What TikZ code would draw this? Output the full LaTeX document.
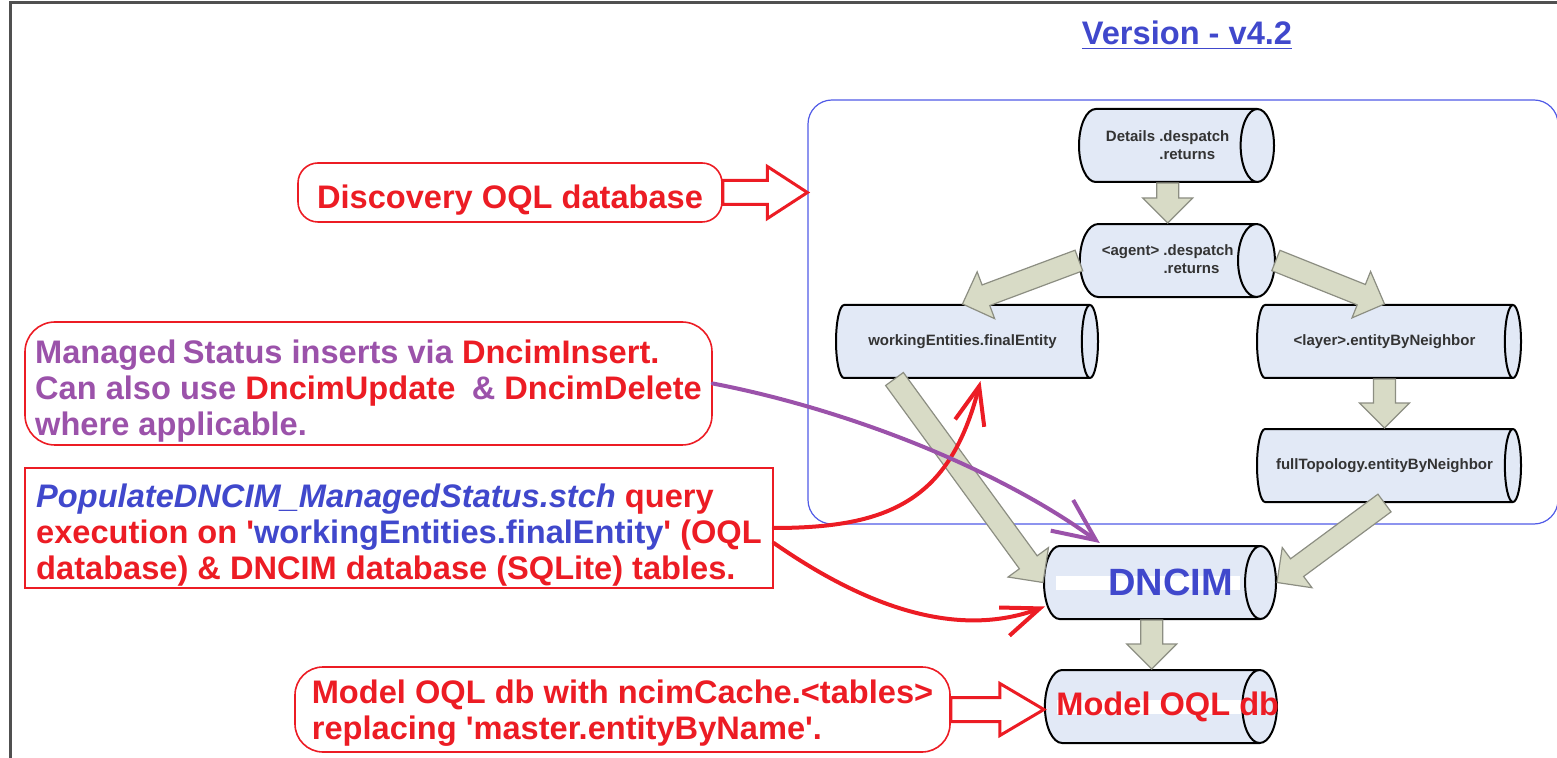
\documentclass[tikz,border=0pt]{standalone}
\usepackage{fontspec}
\setmainfont{Liberation Sans}
\usetikzlibrary{positioning,calc,shapes.geometric,arrows.meta}

\definecolor{dbfill}{RGB}{226,233,246}
\definecolor{arrfill}{RGB}{216,219,198}
\definecolor{arrline}{RGB}{140,142,130}
\definecolor{notered}{RGB}{236,28,36}
\definecolor{notepurple}{RGB}{155,82,170}
\definecolor{noteblue}{RGB}{64,72,204}
\definecolor{grpblue}{RGB}{80,90,230}
\definecolor{edgegray}{RGB}{80,80,80}

% block arrow: style, from, to, half shaft, half head, head length
\newcommand{\bigarrow}[6]{%
  \coordinate (bh) at ($(#3)!#6!(#2)$);
  \filldraw[#1] ($(#2)!#4!90:(#3)$) -- ($(bh)!#4!90:(#3)$) -- ($(bh)!#5!90:(#3)$) -- (#3)
     -- ($(bh)!#5!-90:(#3)$) -- ($(bh)!#4!-90:(#3)$) -- ($(#2)!#4!-90:(#3)$) -- cycle;}
\newcommand{\notetop}{\rule{0pt}{19pt}}

\tikzset{
  db/.style={cylinder, draw=black, line width=1pt, aspect=1.15,
    cylinder uses custom fill, cylinder body fill=dbfill, cylinder end fill=dbfill,
    inner sep=0pt, minimum height=97.5pt, minimum width=36.5pt,
    font=\fontsize{7.5}{9}\selectfont\bfseries, text=black!80, align=left},
  band/.style={path picture={\fill[white] ($(path picture bounding box.west)+(6pt,3.5pt)$)
    rectangle ($(path picture bounding box.east)+(-18pt,-3.5pt)$);}},
  note/.style={font=\fontsize{16.3}{18}\selectfont\bfseries, align=left, inner sep=0pt},
  redbox/.style={note, draw=notered, line width=0.8pt, rounded corners=10pt},
  fatarr/.style={fill=arrfill, draw=arrline, line width=0.6pt},
  hollowarr/.style={fill=white, draw=notered, line width=1.5pt},
  redline/.style={draw=notered, line width=2pt, line cap=round,
    -{Straight Barb[length=19pt,width=15pt]}},
  purpleline/.style={draw=notepurple, line width=2pt, line cap=round,
    -{Straight Barb[length=21pt,width=19pt]}}
}

\begin{document}
\begin{tikzpicture}[x=0.5pt,y=-0.5pt]
  \useasboundingbox (0,0) rectangle (1557,758);
  \draw[edgegray, line width=1.5pt] (10,800) |- (1600,3);

  \node[font=\fontsize{16.3}{18}\selectfont\bfseries, text=noteblue, anchor=base] (ver) at (1187,45) {\underline{Version - v4.2}};
  \node[draw=grpblue, line width=0.6pt, rounded corners=12pt, minimum width=375pt,
    minimum height=212pt, inner sep=0pt] (grp) at (1183,312) {};

  % tables
  \node[db, anchor=west] (det) at (1078,145.5) {Details .despatch\\\phantom{Details }.returns};
  \node[db, below=20pt of det] (agt) {<agent> .despatch\\\phantom{<agent> }.returns};
  \node[db, anchor=west, minimum height=131pt] (wrk) at (835,341.5) {workingEntities.finalEntity};
  \node[db, anchor=west, minimum height=132pt] (lay) at (1256,341.5) {<layer>.entityByNeighbor};
  \node[db, minimum height=132pt, below=24.5pt of lay] (full) {fullTopology.entityByNeighbor};
  \node[db, band, anchor=west, minimum height=116pt, font=\fontsize{19}{20}\selectfont\bfseries, text=noteblue] (dncim) at (1043,582.5)
    {\makebox[0pt]{\hspace{19pt}DNCIM}};
  \node[db, band, minimum height=116pt, below=24.5pt of dncim, font=\fontsize{16.3}{18}\selectfont\bfseries, text=notered] (model)
    {\makebox[0pt]{\hspace{16pt}Model OQL db}};

  % notes
  \node[redbox, minimum width=212pt, minimum height=29.5pt, text=notered] (disc) at (510,192.5) {\notetop Discovery OQL database};
  \node[redbox, rounded corners=15pt, minimum width=343.5pt, minimum height=61.5pt, text=notepurple] (mgd) at (368.5,383.5)
    {\notetop Managed\hspace{0.2em}Status inserts via \textcolor{notered}{DncimInsert.}\\
     Can also use \textcolor{notered}{DncimUpdate}\enspace\&~\textcolor{notered}{DncimDelete}\\
     where applicable.};
  \node[redbox, sharp corners, minimum width=374pt, minimum height=60pt, text=notered] (pop) at (399,528)
    {\notetop\textcolor{noteblue}{\itshape PopulateDNCIM\_ManagedStatus.stch} query\\
     execution on \textquotesingle\textcolor{noteblue}{workingEntities.finalEntity}\textquotesingle{} (OQL\\
     database) \& DNCIM database (SQLite) tables.};
  \node[redbox, rounded corners=14pt, minimum width=327.5pt, minimum height=42.5pt, text=notered] (mdl) at (622.5,709.5)
    {\rule{0pt}{15pt}Model OQL db with ncimCache.<tables>\\
     replacing \textquotesingle master.entityByName\textquotesingle.};

  % flow between tables
  \coordinate (wrkout) at ($(wrk.south)+(-68,0)$);
  \bigarrow{fatarr}{det.south}{agt.north}{5.5pt}{12.5pt}{12.5pt}
  \bigarrow{fatarr}{agt.west}{wrk.north}{5.5pt}{12.5pt}{12.5pt}
  \bigarrow{fatarr}{agt.east}{lay.north}{5.5pt}{12.5pt}{12.5pt}
  \bigarrow{fatarr}{lay.south}{full.north}{5.5pt}{12.5pt}{12.5pt}
  \bigarrow{fatarr}{full.south}{dncim.east}{5.5pt}{12.5pt}{12.5pt}
  \bigarrow{fatarr}{wrkout}{dncim.west}{5.5pt}{12.5pt}{12.5pt}
  \bigarrow{fatarr}{dncim.south}{model.north}{5.5pt}{12.5pt}{12.5pt}

  % pointers from notes
  \coordinate (discend) at (disc.east -| grp.west);
  \coordinate (mdlend) at (mdl.east -| model.west);
  \bigarrow{hollowarr}{disc.east}{discend}{6pt}{13pt}{20pt}
  \bigarrow{hollowarr}{mdl.east}{mdlend}{6pt}{13pt}{22pt}

  \coordinate (wrkin) at ($(wrk.south)+(18,2)$);
  \coordinate (popb) at ($(pop.east)+(0,15)$);
  \coordinate (dncimin) at ($(dncim.west)+(2,24)$);
  \coordinate (dncimtop) at ($(dncim.north)+(-52,-2)$);
  \draw[redline] (pop.east) .. controls (890,528) and (950,500) .. (wrkin);
  \draw[redline] (popb) .. controls (870,610) and (960,638) .. (dncimin);
  \draw[purpleline] (mgd.east) .. controls (850,410) and (1000,470) .. (dncimtop);
\end{tikzpicture}
\end{document}
